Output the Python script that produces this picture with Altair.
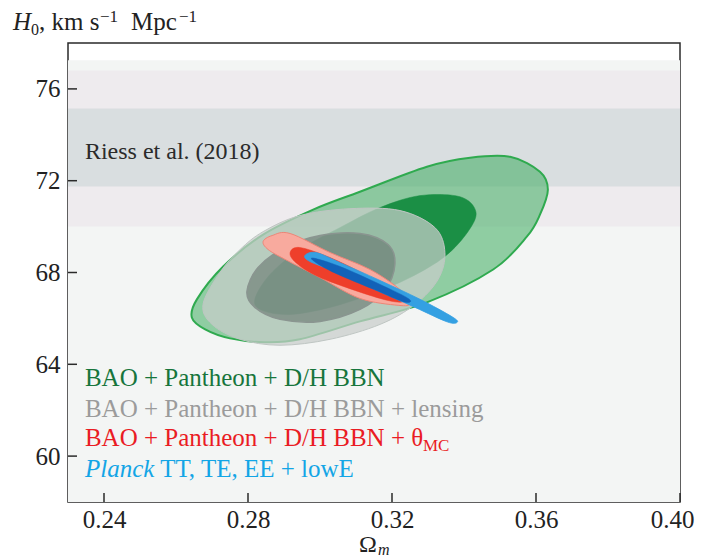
import altair as alt
import pandas as pd

SERIF = "Liberation Serif"

# ---------------- data ----------------
X_DOMAIN = [0.23, 0.40]
Y_DOMAIN = [58, 78]
x_ticks = [0.24, 0.28, 0.32, 0.36, 0.40]
y_ticks = [60, 64, 68, 72, 76]

# horizontal bands: plot background, Riess et al. (2018) 2-sigma, 1-sigma
band_lo = [58.0, 70.0, 71.75]
band_hi = [77.25, 76.8, 75.15]
band_colors = ["#f3f5f4", "#eeebee", "#d9dee0"]

# BAO + Pantheon + D/H BBN (2 sigma, 1 sigma)
green_outer_x = [0.2644, 0.2658, 0.2731, 0.2842, 0.2981, 0.3111, 0.3297, 0.3417, 0.3528, 0.3611,
                 0.3633, 0.3611, 0.3575, 0.3481, 0.3297, 0.3111, 0.2944, 0.2847, 0.2750, 0.2681]
green_outer_y = [66.04, 66.83, 68.26, 69.65, 70.74, 71.52, 72.61, 73.00, 73.04, 72.39,
                 71.61, 70.52, 69.57, 68.13, 66.70, 65.87, 65.09, 64.96, 65.13, 65.52]
green_inner_x = [0.2819, 0.2861, 0.2944, 0.3056, 0.3167, 0.3278, 0.3389, 0.3433, 0.3411, 0.3347,
                 0.3250, 0.3139, 0.3028, 0.2917, 0.2839]
green_inner_y = [66.83, 67.91, 69.00, 69.96, 70.83, 71.35, 71.30, 70.65, 69.78, 68.70,
                 67.78, 67.04, 66.48, 66.17, 66.35]

# BAO + Pantheon + D/H BBN + lensing
gray_outer_x = [0.2675, 0.2722, 0.2778, 0.2842, 0.2944, 0.3083, 0.3222, 0.3319, 0.3347, 0.3328,
                0.3264, 0.3167, 0.3028, 0.2889, 0.2778, 0.2700]
gray_outer_y = [66.61, 68.00, 69.00, 69.78, 70.48, 70.78, 70.70, 69.96, 68.87, 67.70,
                66.61, 65.74, 65.09, 64.83, 65.09, 65.74]
gray_inner_x = [0.2797, 0.2828, 0.2903, 0.3000, 0.3111, 0.3189, 0.3208, 0.3181, 0.3111, 0.3000,
                0.2889, 0.2819]
gray_inner_y = [67.17, 68.22, 69.09, 69.61, 69.70, 69.22, 68.35, 67.26, 66.39, 65.87,
                65.96, 66.48]

# BAO + Pantheon + D/H BBN + theta_MC
red_outer_x = [0.2842, 0.2867, 0.2917, 0.3028, 0.3139, 0.3222, 0.3250, 0.3217, 0.3111, 0.3000,
               0.2903, 0.2856]
red_outer_y = [69.35, 69.61, 69.70, 68.87, 68.13, 67.26, 66.65, 66.57, 66.87, 67.78,
               68.57, 69.00]
red_inner_x = [0.2917, 0.2944, 0.3028, 0.3125, 0.3208, 0.3231, 0.3189, 0.3097, 0.2994, 0.2933]
red_inner_y = [68.87, 69.09, 68.65, 67.91, 67.13, 66.74, 66.78, 67.22, 67.83, 68.43]

# Planck TT, TE, EE + lowE
blue_outer_x = [0.2958, 0.2989, 0.3056, 0.3167, 0.3278, 0.3367, 0.3381, 0.3353, 0.3264, 0.3153,
                0.3042, 0.2972]
blue_outer_y = [68.74, 68.87, 68.43, 67.65, 66.83, 66.07, 65.83, 65.85, 66.48, 67.26,
                68.04, 68.48]
blue_inner_x = [0.2981, 0.3056, 0.3167, 0.3247, 0.3233, 0.3150, 0.3044, 0.2989]
blue_inner_y = [68.63, 68.26, 67.48, 66.85, 66.72, 67.26, 67.96, 68.43]

legend_texts = ["BAO + Pantheon + D/H BBN",
                "BAO + Pantheon + D/H BBN + lensing",
                "BAO + Pantheon + D/H BBN + θ"]
legend_colors = ["#17753c", "#9b9b9b", "#ea1c24"]
legend_y = [63.04, 61.70, 60.43]

# ---------------- chart ----------------
W, H = 612, 459
xs = alt.Scale(domain=X_DOMAIN, nice=False, zero=False)
ys = alt.Scale(domain=Y_DOMAIN, nice=False, zero=False)
xaxis = alt.Axis(values=x_ticks, format=".2f", title=None, ticks=False, domain=False, grid=False,
                 labelFont=SERIF, labelFontSize=25, labelColor="#222", labelPadding=5,
                 labelFlush=1, labelFlushOffset=14, labelOverlap=False)
yaxis = alt.Axis(values=y_ticks, format="d", title=None, ticks=False, domain=False, grid=False,
                 labelFont=SERIF, labelFontSize=25, labelColor="#222", labelPadding=8,
                 labelOverlap=False)

X = lambda f: alt.X(f, type="quantitative", scale=xs, axis=xaxis)
Y = lambda f: alt.Y(f, type="quantitative", scale=ys, axis=yaxis)

bands = alt.Chart(pd.DataFrame({"lo": band_lo, "hi": band_hi, "c": band_colors})).mark_rect().encode(
    x=alt.value(0), x2=alt.value(W), y=Y("lo"), y2="hi", color=alt.Color("c:N", scale=None))


def contour(xv, yv, **mk):
    df = pd.DataFrame({"i": list(range(len(xv))), "x": xv, "y": yv})
    return alt.Chart(df).mark_line(interpolate="cardinal-closed", **mk).encode(
        x=X("x"), y=Y("y"), order=alt.Order("i:Q"))


layers = [
    bands,
    contour(green_outer_x, green_outer_y, fill="#3dab5e", fillOpacity=0.55, stroke="#2faa4f", strokeWidth=2),
    contour(green_inner_x, green_inner_y, fill="#1b8f45", stroke="#1b8f45", strokeWidth=0.5),
    contour(gray_outer_x, gray_outer_y, fill="#c8cdcb", fillOpacity=0.72, stroke="#bfc6c3", strokeWidth=1),
    contour(gray_inner_x, gray_inner_y, fill="#66756e", fillOpacity=0.6, stroke="#8a9590", strokeWidth=1.5),
    contour(red_outer_x, red_outer_y, fill="#f8aa9e", stroke="#ee8577", strokeWidth=1),
    contour(red_inner_x, red_inner_y, fill="#ee3f2b", stroke="#ee3f2b", strokeWidth=0.5),
    contour(blue_outer_x, blue_outer_y, fill="#34a0e2", stroke="#34a0e2", strokeWidth=0.8),
    contour(blue_inner_x, blue_inner_y, fill="#1262b8", stroke="#1262b8", strokeWidth=0.5),
]

# inward ticks
layers.append(alt.Chart(pd.DataFrame({"t": x_ticks})).mark_rule(color="#2a2a2a", strokeWidth=1.5).encode(
    x=X("t"), y=alt.value(H), y2=alt.value(H - 9)))
layers.append(alt.Chart(pd.DataFrame({"t": y_ticks})).mark_rule(color="#2a2a2a", strokeWidth=1.5).encode(
    y=Y("t"), x=alt.value(0), x2=alt.value(9)))

# Riess label
layers.append(alt.Chart(pd.DataFrame({"x": [0.2347], "y": [72.96], "t": ["Riess et al. (2018)"]}))
              .mark_text(align="left", baseline="alphabetic", font=SERIF, fontSize=24, color="#2b2b2b")
              .encode(x=X("x"), y=Y("y"), text="t:N"))

# legend lines
layers.append(alt.Chart(pd.DataFrame({"x": [0.2347] * 3, "y": legend_y, "t": legend_texts, "c": legend_colors}))
              .mark_text(align="left", baseline="alphabetic", font=SERIF, fontSize=25)
              .encode(x=X("x"), y=Y("y"), text="t:N", color=alt.Color("c:N", scale=None)))
layers.append(alt.Chart(pd.DataFrame({"x": [0.3286], "y": [60.22], "t": ["MC"]}))
              .mark_text(align="left", baseline="alphabetic", font=SERIF, fontSize=17, color="#ea1c24")
              .encode(x=X("x"), y=Y("y"), text="t:N"))
layers.append(alt.Chart(pd.DataFrame({"x": [0.2347], "y": [59.09], "t": ["Planck"]}))
              .mark_text(align="left", baseline="alphabetic", font=SERIF, fontSize=25, fontStyle="italic",
                         color="#13a5e6")
              .encode(x=X("x"), y=Y("y"), text="t:N"))
layers.append(alt.Chart(pd.DataFrame({"x": [0.2556], "y": [59.09], "t": ["TT, TE, EE + lowE"]}))
              .mark_text(align="left", baseline="alphabetic", font=SERIF, fontSize=25, color="#13a5e6")
              .encode(x=X("x"), y=Y("y"), text="t:N"))


def note(txt, x, y, size, style="normal"):
    return alt.Chart(pd.DataFrame({"t": [txt]})).mark_text(
        align="left", baseline="alphabetic", font=SERIF, fontSize=size, fontStyle=style, color="#222"
    ).encode(x=alt.value(x), y=alt.value(y), text="t:N")


# y title (top-left) and x title
layers += [
    note("H", -55, -13, 25, "italic"),
    note("0", -37, -8, 16),
    note(", km s", -29, -13, 25),
    note("−1", 32, -21, 17),
    note("Mpc", 63, -13, 25),
    note("−1", 111, -21, 17),
    note("Ω", 291, 509, 24),
    note("m", 310, 512, 16, "italic"),
]

chart = alt.layer(*layers).properties(
    width=W, height=H, autosize="none",
    padding={"left": 60, "top": 35, "right": 16, "bottom": 58},
    background="white",
).configure_view(stroke="#2a2a2a", strokeWidth=1.5)

chart.save("out.html", embed_options={"renderer": "svg", "actions": False})
